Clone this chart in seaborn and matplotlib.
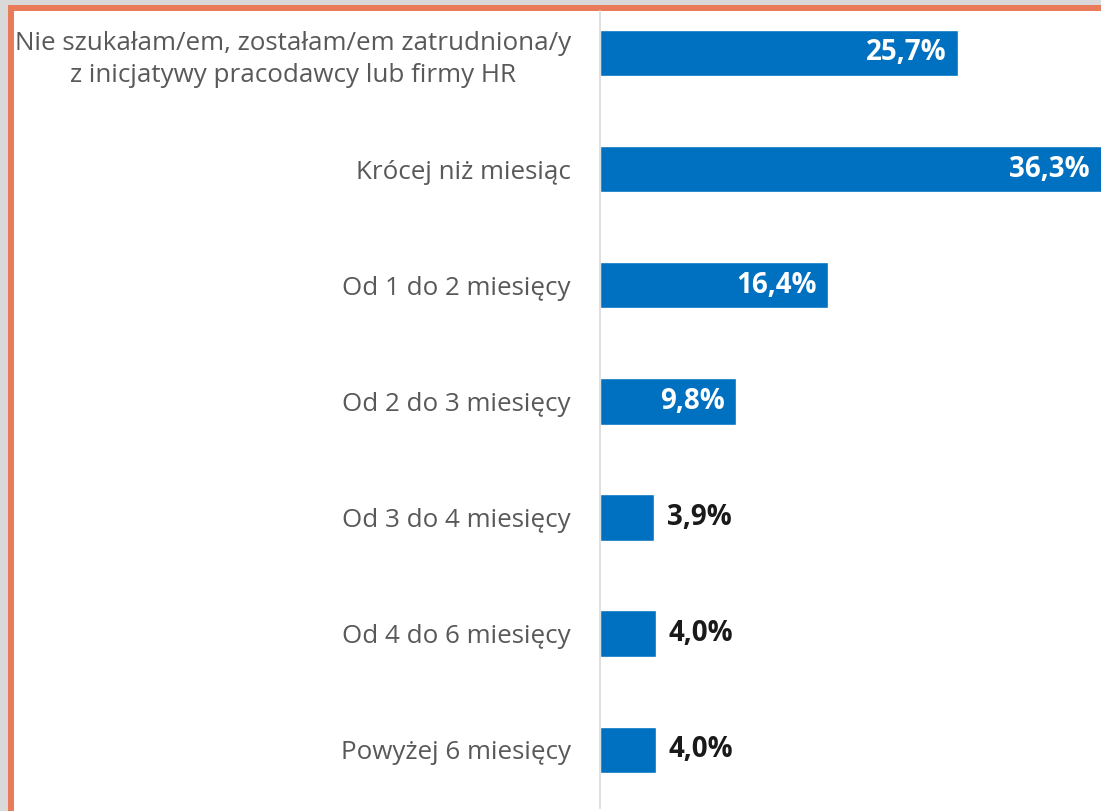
import matplotlib
matplotlib.use("Agg")
import matplotlib.pyplot as plt
import seaborn as sns
import pandas as pd
from matplotlib.patches import Rectangle

categories = [
    "Nie szukałam/em, zostałam/em zatrudniona/y\nz inicjatywy pracodawcy lub firmy HR",
    "Krócej niż miesiąc",
    "Od 1 do 2 miesięcy",
    "Od 2 do 3 miesięcy",
    "Od 3 do 4 miesięcy",
    "Od 4 do 6 miesięcy",
    "Powyżej 6 miesięcy",
]
values = [25.7, 36.3, 16.4, 9.8, 3.9, 4.0, 4.0]
labels = ["25,7%", "36,3%", "16,4%", "9,8%", "3,9%", "4,0%", "4,0%"]

df = pd.DataFrame({"cat": categories, "val": values})

sns.set_theme(style="white")
plt.rcParams["font.family"] = ["Open Sans", "DejaVu Sans"]

W, H = 1101, 811
fig = plt.figure(figsize=(W / 100, H / 100), dpi=100)
fig.patch.set_facecolor("#d9d9d9")

# white panel and orange border
fig.add_artist(Rectangle((8 / W, 0), 1, 1 - 5 / H, transform=fig.transFigure,
                         facecolor="#E97B5A", edgecolor="none", zorder=-10))
fig.add_artist(Rectangle((14 / W, 0), 1, 1 - 11 / H, transform=fig.transFigure,
                         facecolor="white", edgecolor="none", zorder=-9))

ax_left = 600 / W
ax_bottom = (H - 808) / H
ax_top = (H - 11) / H
ax = fig.add_axes([ax_left, ax_bottom, 1 - ax_left, ax_top - ax_bottom])
ax.set_facecolor("none")
ax.set_zorder(1)

sns.barplot(data=df, x="val", y="cat", orient="h", color="#0070C0",
            width=0.4, saturation=1, ax=ax)

XMAX = 35.97
ax.set_xlim(0, XMAX)
ax.set_ylim(6.5, -0.36)
ax.set_xlabel("")
ax.set_ylabel("")
ax.set_xticks([])
for s in ["top", "right", "bottom"]:
    ax.spines[s].set_visible(False)
ax.spines["left"].set_color("#d9d9d9")
ax.spines["left"].set_linewidth(1.2)
ax.tick_params(axis="y", length=0, pad=21, labelsize=18.7, labelcolor="#595959")
for t in ax.get_yticklabels():
    t.set_horizontalalignment("right")
    t.set_multialignment("center")
    t.set_linespacing(1.4)

for i, (v, lab) in enumerate(zip(values, labels)):
    if v > 8:
        xpos = min(v, XMAX) - 0.85
        ax.text(xpos, i, lab, ha="right", va="center", color="white",
                fontsize=20, fontweight="bold", clip_on=False)
    else:
        ax.text(v + 0.9, i, lab, ha="left", va="center", color="#1a1a1a",
                fontsize=20, fontweight="bold")

fig.savefig("out.png", dpi=100, facecolor=fig.get_facecolor())
